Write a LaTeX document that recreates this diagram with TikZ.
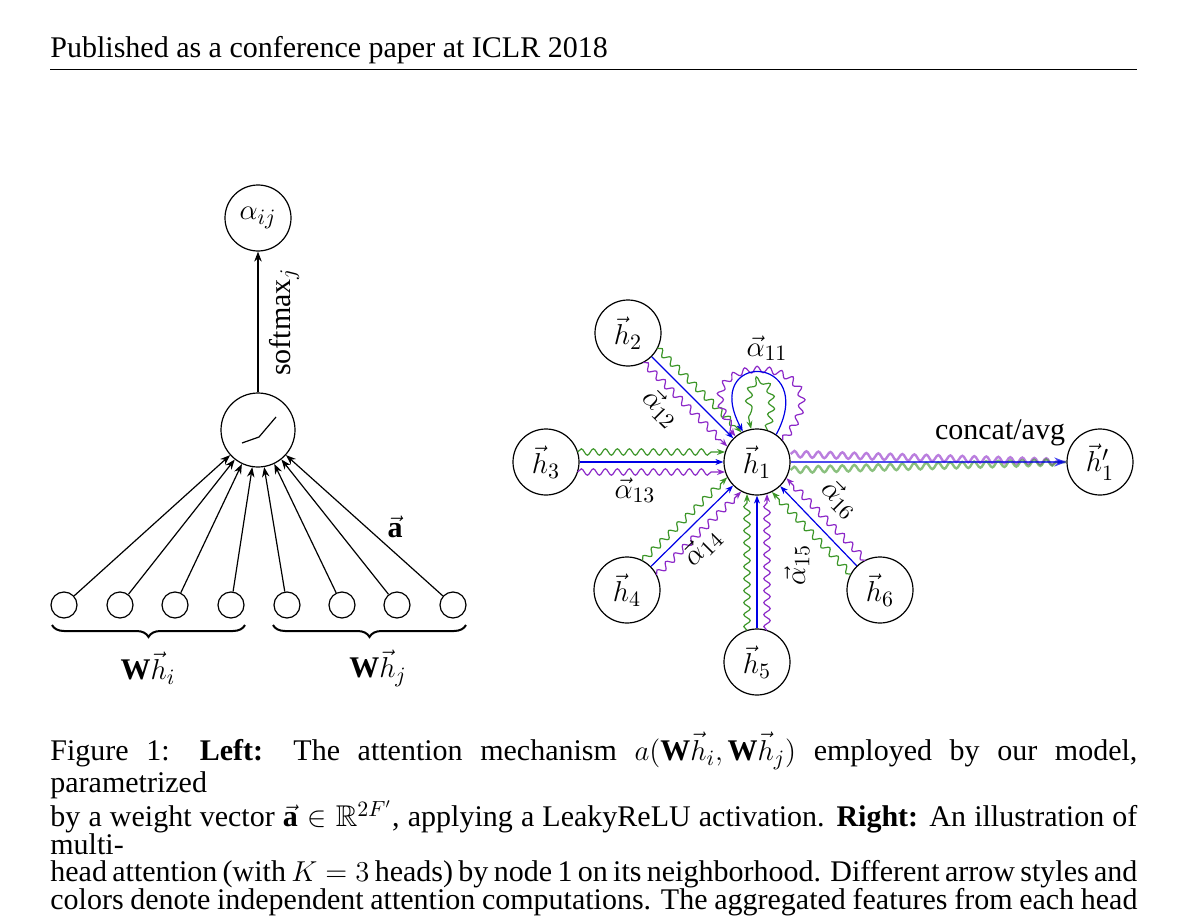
\documentclass[tikz,border=0pt]{standalone}
\usepackage{amssymb}
\usepackage{fontspec}
\setmainfont{Liberation Serif}
\usetikzlibrary{arrows.meta,calc,decorations.pathmorphing,decorations.pathreplacing}
\definecolor{gg}{RGB}{60,150,40}
\definecolor{pp}{RGB}{140,40,200}
\definecolor{bb}{RGB}{0,0,230}
\newcommand\triedge[1]{%
 \coordinate (ga) at ($(#1)!5pt!90:(h1)$); \coordinate (gb) at ($(h1)!5pt!-90:(#1)$);
 \coordinate (pa) at ($(#1)!5pt!-90:(h1)$); \coordinate (pb) at ($(h1)!5pt!90:(#1)$);
 \draw[gsn] ($(ga)!15.8pt!(gb)$) -- ($(gb)!16pt!(ga)$);
 \draw[psn] ($(pa)!15.8pt!(pb)$) -- ($(pb)!16pt!(pa)$);
 \draw[bl] (#1) -- (h1);}
\begin{document}
\begin{tikzpicture}[x=0.5pt,y=0.5pt,
 nd/.style={circle,draw,line width=0.6pt,minimum size=33pt,inner sep=0pt,font=\fontsize{15}{17}\selectfont},
 sm/.style={circle,draw,line width=0.6pt,minimum size=13pt,inner sep=0pt},
 ar/.style={-{Stealth[length=5pt]},line width=0.6pt},
 snk/.style={decorate,decoration={snake,amplitude=1.6pt,segment length=6pt,post length=4pt},-{Stealth[length=4pt]},line width=0.6pt},
 gsn/.style={snk,gg},psn/.style={snk,pp},
 bl/.style={-{Stealth[length=4pt]},bb,line width=0.6pt},
 lab/.style={font=\fontsize{15}{17}\selectfont}]
\useasboundingbox (0,0) rectangle (1200,918);
% header
\node[anchor=base west,inner sep=0pt,font=\fontsize{15}{16}\selectfont] (hd) at (50,860) {Published as a conference paper at ICLR 2018};
\draw[line width=0.5pt] (50,848) -- (1137,848);
% left
\node[nd] (aij) at (258,700) {$\alpha_{ij}$};
\node[nd,minimum size=37pt] (relu) at (258,488) {};
\draw[line width=0.6pt] (242,475) -- (259,481) -- (276,501);
\draw[ar] (relu) -- node[lab,right,rotate=90,anchor=north,yshift=-2pt] {softmax$_j$} (aij);
\foreach \i/\x in {1/64,2/120,3/175,4/231,5/287,6/342,7/397,8/453}{
 \node[sm] (s\i) at (\x,313) {};
 \draw[ar] (s\i) -- (relu);}
\node[lab] (va) at (395,391) {$\vec{\mathbf{a}}$};
\draw[decorate,decoration={brace,mirror,amplitude=6pt},line width=1pt] (52,293) -- (245,293);
\draw[decorate,decoration={brace,mirror,amplitude=6pt},line width=1pt] (273,293) -- (466,293);
\node[lab] (wi) at (148,250) {$\mathbf{W}\vec{h}_i$};
\node[lab] (wj) at (378,250) {$\mathbf{W}\vec{h}_j$};
% right
\node[nd] (h1) at (757,456) {$\vec{h}_1$};
\node[nd] (h2) at (628,585) {$\vec{h}_2$};
\node[nd] (h3) at (546,456) {$\vec{h}_3$};
\node[nd] (h4) at (627,328) {$\vec{h}_4$};
\node[nd] (h5) at (757,256) {$\vec{h}_5$};
\node[nd] (h6) at (880,328) {$\vec{h}_6$};
\node[nd] (ho) at (1100,456) {$\vec{h}'_1$};
\triedge{h2}\triedge{h3}\triedge{h4}\triedge{h5}\triedge{h6}
% self loops
\draw[psn] (h1.40) .. controls +(50:58pt) and +(130:58pt) .. (h1.130);
\draw[bl] (h1.55) .. controls +(62:46pt) and +(118:46pt) .. (h1.115);
\draw[gsn] (h1.72) .. controls +(75:32pt) and +(105:32pt) .. (h1.100);
% output
\draw[snk,pp,opacity=0.6,line width=1.2pt,-] ($(h1.east)+(0,8)$) -- (ho.west);
\draw[snk,gg,opacity=0.6,line width=1.2pt,-] ($(h1.east)+(0,-8)$) -- (ho.west);
\draw[bb,opacity=0.7,line width=1.4pt,-{Stealth[length=6pt]}] (h1) -- (ho);
\node[lab] (ca) at (1000,485) {concat/avg};
% alpha labels
\node[lab] (a11) at (767,570) {$\vec{\alpha}_{11}$};
\node[lab,rotate=-45] (a12) at (661,510) {$\vec{\alpha}_{12}$};
\node[lab] (a13) at (635,428) {$\vec{\alpha}_{13}$};
\node[lab,rotate=45] (a14) at (702,371) {$\vec{\alpha}_{14}$};
\node[lab,rotate=90] (a15) at (797,353) {$\vec{\alpha}_{15}$};
\node[lab,rotate=-45] (a16) at (840,419) {$\vec{\alpha}_{16}$};
% caption
\node[anchor=north west,inner sep=0pt,text width=543.5pt,align=justify,font=\fontsize{15}{13.8}\selectfont] (cap) at (50,186) {\lineskiplimit=-20pt Figure 1: \textbf{Left:} The attention mechanism $a(\mathbf{W}\vec{h}_i,\mathbf{W}\vec{h}_j)$ employed by our model, parametrized\linebreak by a weight vector $\vec{\mathbf{a}}\in\mathbb{R}^{2F'}$, applying a LeakyReLU activation. \textbf{Right:} An illustration of multi-\linebreak head attention (with $K=3$ heads) by node 1 on its neighborhood. Different arrow styles and\linebreak colors denote independent attention computations. The aggregated features from each head are\linebreak concatenated or averaged to obtain $\vec{h}'_1$.};
\end{tikzpicture}
\end{document}
